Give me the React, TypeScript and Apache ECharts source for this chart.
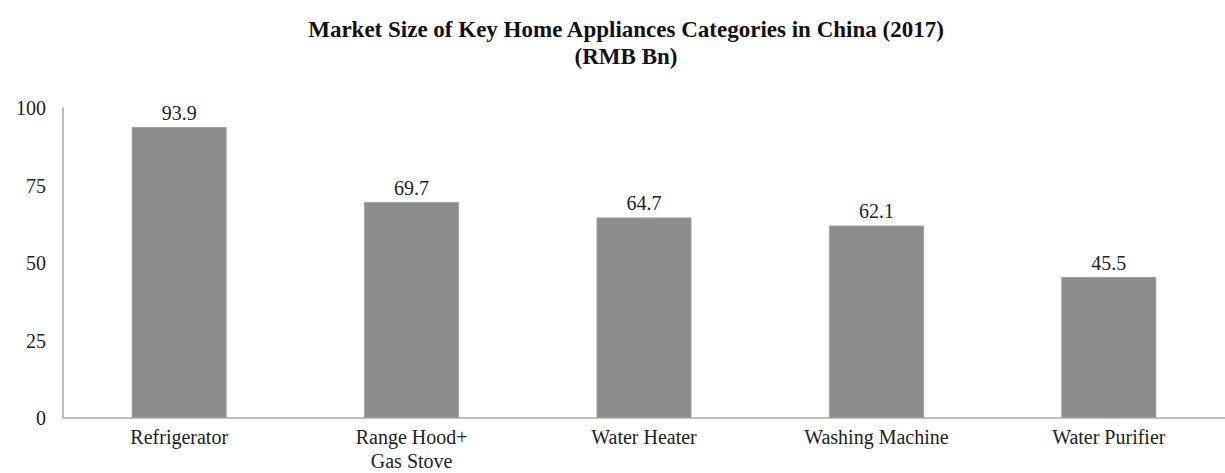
import React, { useEffect, useRef } from "react";
import * as echarts from "echarts";

const categories = ["Refrigerator", "Range Hood+\nGas Stove", "Water Heater", "Washing Machine", "Water Purifier"];
const values = [93.9, 69.7, 64.7, 62.1, 45.5];
const titleText = "Market Size of Key Home Appliances Categories in China (2017)\n(RMB Bn)";

const FONT = '"Liberation Serif", "Times New Roman", serif';

export default function App() {
  const ref = useRef<HTMLDivElement>(null);
  useEffect(() => {
    if (!ref.current) return;
    const chart = echarts.init(ref.current, undefined, { renderer: "svg" });
    chart.setOption({
      animation: false,
      backgroundColor: "#ffffff",
      title: {
        text: titleText,
        left: 621,
        textAlign: "center",
        top: 11,
        textStyle: {
          fontFamily: FONT,
          fontWeight: "bold",
          fontSize: 23,
          lineHeight: 27,
          color: "#111",
        },
      },
      grid: { left: 63, right: -7, top: 108, bottom: 52, containLabel: false },
      xAxis: {
        type: "category",
        data: categories,
        axisLine: { show: true, lineStyle: { color: "#bfbfbf", width: 2 } },
        axisTick: { show: false },
        axisLabel: {
          fontFamily: FONT,
          fontSize: 20,
          color: "#222",
          margin: 7,
          lineHeight: 24,
          interval: 0,
        },
      },
      yAxis: {
        type: "value",
        min: 0,
        max: 100,
        interval: 25,
        axisLine: { show: true, lineStyle: { color: "#bfbfbf", width: 2 } },
        axisTick: { show: false },
        splitLine: { show: false },
        axisLabel: {
          fontFamily: FONT,
          fontSize: 20,
          color: "#222",
          margin: 17,
        },
      },
      series: [
        {
          type: "bar",
          data: values,
          barWidth: 95,
          itemStyle: { color: "#8c8c8c", borderColor: "#a0a0a0", borderWidth: 1 },
          label: {
            show: true,
            position: "top",
            distance: 4,
            fontFamily: FONT,
            fontSize: 20,
            color: "#222",
            formatter: (p: any) => p.value.toFixed(1),
          },
        },
      ],
    });
    return () => chart.dispose();
  }, []);
  return (
    <div
      ref={ref}
      style={{ position: "fixed", left: 0, top: 0, width: 1225, height: 473 }}
    />
  );
}
